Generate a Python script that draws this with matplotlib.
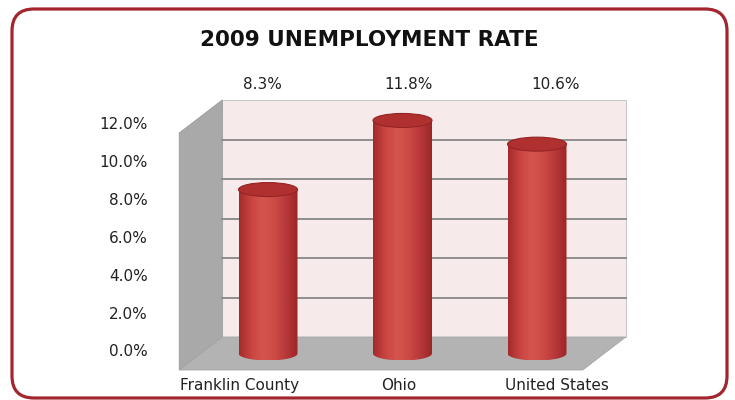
import numpy as np
import matplotlib; matplotlib.use("Agg")
import matplotlib.pyplot as plt
from matplotlib.patches import Polygon, Ellipse, PathPatch, FancyBboxPatch
from matplotlib.path import Path
from matplotlib.colors import LinearSegmentedColormap
from matplotlib.transforms import IdentityTransform

# data
categories = ["Franklin County", "Ohio", "United States"]
rates = [8.3, 11.8, 10.6]
value_labels = ["8.3%", "11.8%", "10.6%"]
yticks = [0, 2, 4, 6, 8, 10, 12]
ytick_labels = ["0.0%", "2.0%", "4.0%", "6.0%", "8.0%", "10.0%", "12.0%"]
title = "2009 UNEMPLOYMENT RATE"

# layout (pixel calibration of the 3d box)
W, H = 735, 400
PX_X = 134.5          # px per category step
PX_Y = 19.75          # px per percent point
X0, Y0 = 268, 353.5   # pixel of category 0 / 0% on mid-depth plane
DX, DY = 21.5 / PX_X, 16.5 / PX_Y   # half depth offset
C = 29.5 / PX_X       # cylinder half width
E = 14 / PX_Y         # cylinder cap height
YMAX = 12

RED = "#a3262e"; WALL = "#f6ebea"; GRID = "#8e8e8e"
plt.rcParams["font.family"] = "DejaVu Sans"

fig = plt.figure(figsize=(W / 100, H / 100), dpi=100)
fig.patch.set_facecolor("white")
ax = fig.add_axes([0, 0, 1, 1]); ax.axis("off")

# frame
frame = FancyBboxPatch((12, 2), 715, 389, boxstyle="round,pad=0,rounding_size=22",
                       transform=IdentityTransform(), fc="none", ec=RED, lw=2.3)
fig.patches.append(frame)
fig.text(0.503, 0.9, title, ha="center", va="center", fontsize=15.5, fontweight="bold", color="#111111")

L, R = -0.5, len(categories) - 0.5
# back wall, left wall, floor
ax.add_patch(Polygon([(L + DX, DY), (R + DX, DY), (R + DX, YMAX + DY), (L + DX, YMAX + DY)],
                     fc=WALL, ec="#c8c8c8", lw=0.8, zorder=1))
ax.add_patch(Polygon([(L - DX, -DY), (L - DX, YMAX - DY), (L + DX, YMAX + DY), (L + DX, DY)],
                     fc="#a9a9a9", ec="#9a9a9a", lw=0.6, zorder=1))
ax.add_patch(Polygon([(L - DX, -DY), (R - DX, -DY), (R + DX, DY), (L + DX, DY)],
                     fc="#b3b3b3", ec="#a5a5a5", lw=0.6, zorder=1))
for t in yticks[1:-1]:
    ax.plot([L + DX, R + DX], [t + DY, t + DY], color=GRID, lw=1.4, zorder=2)

# cylinders
cmap = LinearSegmentedColormap.from_list("cyl", ["#a32a2a", "#c94440", "#d5554e", "#cd4b45", "#b8383a", "#9c2626"])
grad = np.linspace(0, 1, 200)[None, :]
th = np.linspace(np.pi, 2 * np.pi, 60)
for i, v in enumerate(rates):
    verts = [(i - C, v), (i - C, 0)] + [(i + C * np.cos(a), E / 2 * np.sin(a)) for a in th] + [(i + C, v), (i - C, v)]
    body = PathPatch(Path(verts), fc="none", ec="none", zorder=3)
    ax.add_patch(body)
    im = ax.imshow(grad, cmap=cmap, extent=[i - C, i + C, -E / 2, v], aspect="auto", zorder=3)
    im.set_clip_path(body)
    ax.add_patch(Ellipse((i, v), 2 * C, E, fc="#b0302f", ec="#952323", lw=0.8, zorder=4))

# texts
for i, s in enumerate(value_labels):
    ax.text(i * 1.09 - 0.045, 13.6, s, ha="center", va="center", fontsize=11, color="#222222")
for t, s in zip(yticks, ytick_labels):
    ax.text(-0.892, 0.076 + t * 0.958, s, ha="right", va="center", fontsize=11, color="#222222")
for i, s in enumerate(categories):
    ax.text(i * 1.18 - 0.21, -1.6, s, ha="center", va="center", fontsize=11, color="#222222")

ax.set_xlim(-X0 / PX_X, (W - X0) / PX_X)
ax.set_ylim((Y0 - H) / PX_Y, Y0 / PX_Y)
fig.savefig("out.png", dpi=100, facecolor="white")
